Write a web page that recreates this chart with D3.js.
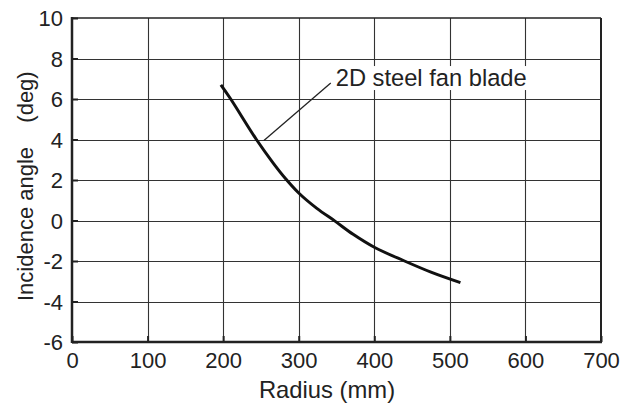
<!DOCTYPE html>
<html><head><meta charset="utf-8">
<script src="https://cdn.jsdelivr.net/npm/d3@7"></script>
<style>body{margin:0;background:#fff}svg{display:block}text{font-family:"Liberation Sans",Arial,Helvetica,sans-serif;fill:#222}</style>
</head><body>
<svg id="c" width="623" height="405"></svg>
<script>
const radius = [197, 210, 244, 266, 283, 300, 324, 348, 372, 400, 440, 475, 514];
const angle  = [6.7, 6.0, 4.0, 2.85, 2.05, 1.36, 0.6, -0.03, -0.68, -1.32, -2.0, -2.55, -3.07];
const xTicks = [0, 100, 200, 300, 400, 500, 600, 700];
const yTicks = [-6, -4, -2, 0, 2, 4, 6, 8, 10];
const seriesLabel = "2D steel fan blade";
const labelAnchor = [250, 4.0];
const labelPos = [349, 6.64];

const svg = d3.select("#c");
const L = 72, R = 601, T = 18, B = 342;
const x = d3.scaleLinear().domain([0, 700]).range([L, R]);
const y = d3.scaleLinear().domain([-6, 10]).range([B, T]);

const g = svg.append("g");
// grid
g.selectAll(".vg").data(xTicks.slice(1, -1)).enter().append("line")
  .attr("x1", d => Math.round(x(d)) + 0.5).attr("x2", d => Math.round(x(d)) + 0.5)
  .attr("y1", T).attr("y2", B).attr("stroke", "#333").attr("stroke-width", 1.1);
g.selectAll(".hg").data(yTicks.slice(1, -1)).enter().append("line")
  .attr("y1", d => Math.round(y(d)) + 0.5).attr("y2", d => Math.round(y(d)) + 0.5)
  .attr("x1", L).attr("x2", R).attr("stroke", "#333").attr("stroke-width", 1.1);

// axes with inward ticks
const fmt = d => String(d);
const xAxis = d3.axisBottom(x).tickValues(xTicks).tickFormat(fmt).tickSize(-6).tickPadding(10);
const yAxis = d3.axisLeft(y).tickValues(yTicks).tickFormat(fmt).tickSize(-6).tickPadding(9);
const gx = svg.append("g").attr("transform", `translate(0,${B})`).call(xAxis);
const gy = svg.append("g").attr("transform", `translate(${L},0)`).call(yAxis);
[gx, gy].forEach(a => {
  a.attr("font-size", 22).attr("font-family", '"Liberation Sans",Arial,sans-serif');
  a.select(".domain").remove();
  a.selectAll(".tick line").attr("stroke", "#222").attr("stroke-width", 2);
  a.selectAll(".tick text").style("fill", "#222");
});
gy.selectAll(".tick text").attr("dy", "0.36em");

// frame
svg.append("line").attr("x1", L).attr("x2", R).attr("y1", T).attr("y2", T).attr("stroke", "#222").attr("stroke-width", 1.5);
svg.append("line").attr("x1", R).attr("x2", R).attr("y1", T).attr("y2", B).attr("stroke", "#222").attr("stroke-width", 2);
svg.append("line").attr("x1", L).attr("x2", R + 1).attr("y1", B).attr("y2", B).attr("stroke", "#222").attr("stroke-width", 2.5);
svg.append("line").attr("x1", L).attr("x2", L).attr("y1", T - 1).attr("y2", B + 1).attr("stroke", "#222").attr("stroke-width", 2.5);

// label with white background
const bg = svg.append("rect").attr("fill", "#fff");
const lbl = svg.append("text").attr("x", x(labelPos[0])).attr("y", y(labelPos[1]))
  .attr("font-size", 23.7).text(seriesLabel);
const bb = lbl.node().getBBox();
bg.attr("x", bb.x - 2).attr("y", bb.y + 1).attr("width", bb.width + 4).attr("height", bb.height - 2);

// leader line
svg.append("line").attr("x1", x(labelAnchor[0]) + 3).attr("y1", y(labelAnchor[1]) + 1)
  .attr("x2", x(labelPos[0]) - 5).attr("y2", y(labelPos[1]) - 3)
  .attr("stroke", "#222").attr("stroke-width", 1.3);

// curve
const data = radius.map((r, i) => [r, angle[i]]);
svg.append("path").datum(data)
  .attr("d", d3.line().x(d => x(d[0])).y(d => y(d[1])).curve(d3.curveCatmullRom.alpha(0.5)))
  .attr("fill", "none").attr("stroke", "#111").attr("stroke-width", 3);

// axis titles
svg.append("text").attr("x", 327).attr("y", 398).attr("text-anchor", "middle")
  .attr("font-size", 23.8).text("Radius (mm)");
svg.append("text").attr("transform", "translate(33,224) rotate(-90)").attr("text-anchor", "middle")
  .attr("font-size", 22).text("Incidence angle");
svg.append("text").attr("transform", "translate(33,97) rotate(-90)").attr("text-anchor", "middle")
  .attr("font-size", 22).text("(deg)");
</script>
</body></html>
